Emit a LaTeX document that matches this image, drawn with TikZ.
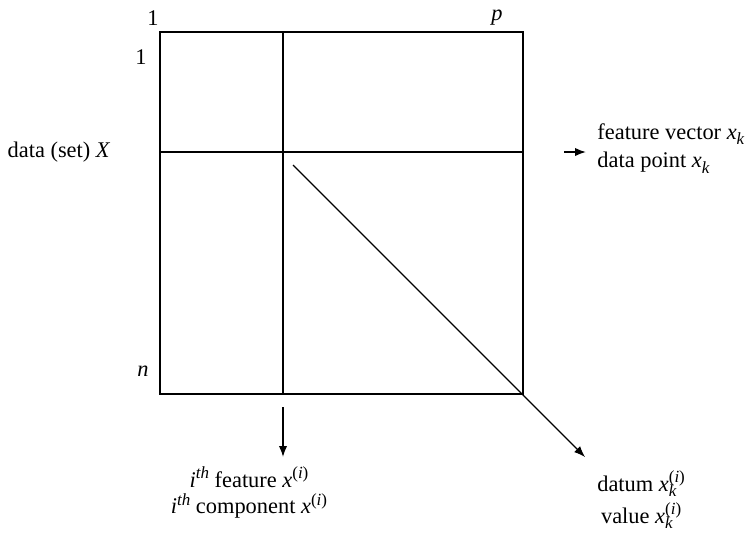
\documentclass[tikz,border=0pt]{standalone}
\usepackage{fontspec}
\setmainfont{Liberation Serif}
\usetikzlibrary{arrows.meta}
\newcommand{\vx}{\textit{x}}
\newcommand{\ssz}{\fontsize{8.5}{9}\selectfont}
\newcommand{\supx}[1]{\raisebox{0.85ex}{\ssz #1}}
\newcommand{\subx}[1]{\raisebox{-0.55ex}{\ssz #1}}
\newcommand{\subsup}[2]{\textit{x}\smash{\rlap{\raisebox{0.9ex}{\ssz(\textit{#2})}}\raisebox{-0.5ex}{\ssz\textit{#1}}}\hphantom{\ssz(\textit{#2})}}
\tikzset{
  grid/.style={line width=1pt},
  thinline/.style={line width=0.55pt},
  tip/.style={-{Latex[length=5.5pt,width=4.2pt]}},
  arr/.style={line width=0.8pt,tip},
  lbl/.style={font=\fontsize{11.2}{13}\selectfont, inner sep=0pt},
}
\begin{document}
\begin{tikzpicture}[x=0.5pt,y=-0.5pt]
\useasboundingbox (0,0) rectangle (747,537);
% grid
\coordinate (tl) at (160,32);
\coordinate (br) at (523,394);
\draw[grid] (tl) rectangle (br);
\coordinate (vt) at (283,32);
\coordinate (vb) at (283,394);
\coordinate (hl) at (160,152);
\coordinate (hr) at (523,152);
\draw[grid] (vt) -- (vb);
\draw[grid] (hl) -- (hr);
% diagonal
\coordinate (d0) at (293,165);
\coordinate (d1) at (585,457);
\draw[thinline,tip] (d0) -- (d1);
% arrows
\coordinate (ra0) at (564,152);
\coordinate (ra1) at (586,152);
\draw[arr] (ra0) -- (ra1);
\coordinate (da0) at (283,407);
\coordinate (da1) at (283,457);
\draw[arr] (da0) -- (da1);
% labels
\node[lbl] (c1) at (153,18) {1};
\node[lbl] (cp) at (497,18) {\textit{p}};
\node[lbl] (r1) at (141,57) {1};
\node[lbl] (rn) at (143,371) {\textit{n}};
\node[lbl] (data) at (59,152) {data (set) \textit{X}};
\node[lbl,anchor=west] (fv) at (597,134) {feature vector \vx\subx{\textit{k}}};
\node[lbl,anchor=west] (dp) at (597,163) {data point \vx\subx{\textit{k}}};
\node[lbl] (ifeat) at (249,477) {\textit{i}\supx{\textit{th}} feature \vx\supx{(\textit{i})}};
\node[lbl] (icomp) at (249,506) {\textit{i}\supx{\textit{th}} component \vx\supx{(\textit{i})}};
\node[lbl] (datum) at (645,484) {datum \subsup{k}{i}};
\node[lbl] (value) at (645,516) {value \subsup{k}{i}};
\end{tikzpicture}
\end{document}
